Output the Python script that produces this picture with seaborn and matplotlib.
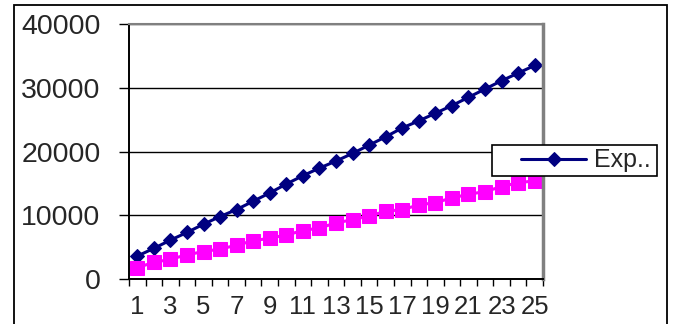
import numpy as np
import pandas as pd
import matplotlib
matplotlib.use("Agg")
import matplotlib.pyplot as plt
import seaborn as sns
from matplotlib.patches import Rectangle

# Data
periods = list(range(1, 26))
exp_values = [3600, 4800, 6100, 7300, 8600, 9800, 10900, 12200, 13500, 14900,
              16200, 17400, 18500, 19700, 21000, 22300, 23700, 24800, 26000, 27200,
              28500, 29800, 31100, 32300, 33500]
second_values = [1800, 2600, 3100, 3800, 4300, 4700, 5300, 6000, 6400, 6900,
                 7600, 8000, 8800, 9300, 9900, 10600, 10900, 11600, 12000, 12700,
                 13300, 13700, 14500, 15100, 15400]
y_ticks = [0, 10000, 20000, 30000, 40000]
x_label_positions = [1, 3, 5, 7, 9, 11, 13, 15, 17, 19, 21, 23, 25]
legend_label = "Exp.."

sns.set_style("white")
plt.rcParams["font.family"] = ["Liberation Sans", "DejaVu Sans"]

df = pd.DataFrame({"period": periods, "exp": exp_values, "second": second_values})

W, H = 674, 324
fig = plt.figure(figsize=(W / 100, H / 100), dpi=100)
ax = fig.add_axes([129 / W, 1 - 279 / H, 414 / W, 255 / H])

sns.lineplot(data=df, x="period", y="exp", ax=ax, color="#000080", marker="D",
             markersize=7.5, markeredgecolor="#000080", linewidth=2.2)
sns.lineplot(data=df, x="period", y="second", ax=ax, color="#FF00FF", marker="s",
             markersize=10, markeredgecolor="#FF00FF", linewidth=2.2)

ax.set_xlim(0.5, 25.5)
ax.set_ylim(0, 40000)
ax.set_xlabel("")
ax.set_ylabel("")

# Category boundaries carry the tick marks, labels sit at the category centres
ax.set_xticks(np.arange(0.5, 26, 1))
ax.set_xticklabels([])
ax.set_xticks(x_label_positions, minor=True)
ax.set_xticklabels([str(p) for p in x_label_positions], minor=True)
ax.tick_params(axis="x", which="major", length=5, width=1, direction="out",
               color="black", bottom=True)
ax.tick_params(axis="x", which="minor", length=0, pad=11.5, labelsize=18.5,
               bottom=True)

ax.set_yticks(y_ticks)
ax.set_yticklabels([str(v) for v in y_ticks])
ax.tick_params(axis="y", length=7.5, width=1, direction="out", color="black",
               pad=13, labelsize=20.5, left=True)

ax.set_axisbelow(True)
ax.yaxis.grid(True, color="black", linewidth=1)
ax.xaxis.grid(False)

for side in ("left", "bottom"):
    ax.spines[side].set_color("black")
    ax.spines[side].set_linewidth(1.4)
ax.spines["top"].set_color("#808080")
ax.spines["top"].set_linewidth(1.5)
ax.spines["right"].set_color("#808080")
ax.spines["right"].set_linewidth(2.5)

if ax.get_legend() is not None:
    ax.get_legend().remove()

# Legend box
fig.add_artist(Rectangle((492 / W, 1 - 176 / H), 165 / W, 31 / H,
                         transform=fig.transFigure, facecolor="white",
                         edgecolor="black", linewidth=1.2, zorder=3))
fig.legend(handles=[ax.lines[0]], labels=[legend_label], loc="center left",
           bbox_to_anchor=(521 / W, 1 - 160.5 / H), frameon=False,
           fontsize=18, handlelength=2.6, handletextpad=0.3,
           borderpad=0, borderaxespad=0)

# Outer frame
fig.add_artist(Rectangle((14 / W, -0.1), (667 - 14) / W, 1.1 - 5 / H,
                         transform=fig.transFigure, fill=False,
                         edgecolor="black", linewidth=1.3, zorder=2))

fig.savefig("out.png", dpi=100)
